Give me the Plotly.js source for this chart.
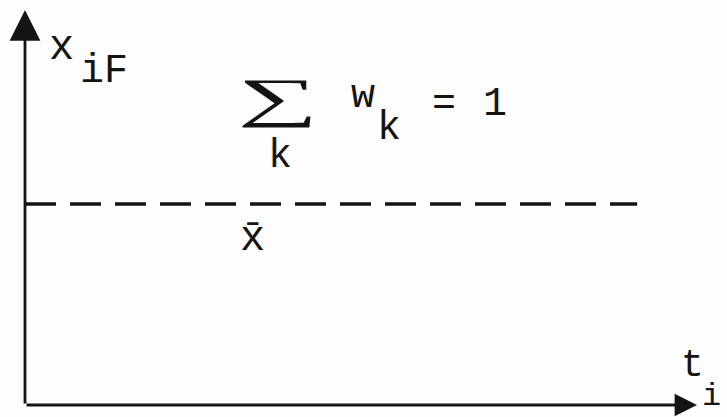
<!DOCTYPE html>
<html>
<head>
<meta charset="utf-8">
<script src="https://cdn.plot.ly/plotly-3.0.1.min.js"></script>
<style>html,body{margin:0;padding:0;background:#fff;}#chart{width:727px;height:417px;}</style>
</head>
<body>
<div id="chart"></div>
<script>
// Data (axis units: time t_i along x, x_iF along y, both normalised 0..1)
const xbar = 0.509;                 // level of the mean x̄
const meanLineT = [0.0, 0.911];     // extent of dashed mean line
const meanLineX = [xbar, xbar];
const timeAxis = [0, 1];            // t_i axis from origin to arrow tip
const valueAxis = [0, 1];           // x_iF axis from origin to arrow tip

const FONT = 'Liberation Mono, Courier New, monospace';
const SIGMA_FONT = 'Liberation Serif';
const INK = '#141414';

const labels = [
  {text: 'x',  x: 0.054, y: 0.905, size: 42},
  {text: 'iF', x: 0.080, y: 0.845, size: 40, xanchor: 'left'},
  {text: 'k',  x: 0.379, y: 0.63,  size: 40},
  {text: 'w',  x: 0.503, y: 0.78,  size: 40},
  {text: 'k',  x: 0.542, y: 0.70,  size: 40},
  {text: '=',  x: 0.624, y: 0.76,  size: 40},
  {text: '1',  x: 0.700, y: 0.76,  size: 40},
  {text: 'x̄', x: 0.339, y: 0.42,  size: 42},
  {text: 't',  x: 0.993, y: 0.10,  size: 38},
  {text: 'i',  x: 1.021, y: 0.022, size: 32}
];

const annotations = labels.map(l => ({
  text: l.text, x: l.x, y: l.y, xref: 'x', yref: 'y',
  showarrow: false, xanchor: l.xanchor || 'center', yanchor: 'middle', borderpad: 0,
  font: {family: FONT, size: l.size, color: INK}
}));

const SIGMA_SIZE = 60;
annotations.push({
  text: '∑', x: 0.376, y: 0.776, xref: 'x', yref: 'y', showarrow: false,
  font: {family: SIGMA_FONT, size: SIGMA_SIZE, color: INK}
});

// axis arrows
annotations.push({
  x: timeAxis[1], y: 0, ax: timeAxis[0], ay: 0, xref: 'x', yref: 'y', axref: 'x', ayref: 'y',
  text: '', showarrow: true, arrowhead: 2, arrowsize: 1.6, arrowwidth: 2.8, arrowcolor: INK
});
annotations.push({
  x: 0, y: valueAxis[1], ax: 0, ay: valueAxis[0], xref: 'x', yref: 'y', axref: 'x', ayref: 'y',
  text: '', showarrow: true, arrowhead: 2, arrowsize: 2.2, arrowwidth: 2.8, arrowcolor: INK
});

const traces = [{
  x: meanLineT, y: meanLineX, type: 'scatter', mode: 'lines',
  line: {color: INK, width: 3.5, dash: '31px,14px'}, hoverinfo: 'skip', showlegend: false
}];

const layout = {
  width: 727, height: 417,
  margin: {l: 25, r: 9, t: 10, b: 12},
  paper_bgcolor: '#fdfdfd', plot_bgcolor: '#fdfdfd',
  xaxis: {range: [0, 693 / 672], visible: false, fixedrange: true},
  yaxis: {range: [0, 1], visible: false, fixedrange: true},
  showlegend: false,
  annotations: annotations
};

Plotly.newPlot('chart', traces, layout, {displayModeBar: false, staticPlot: true}).then(() => {
  // stretch the summation sign to the wide, flat shape of the typed original
  const targetW = 70, targetH = 48;
  const ctx = document.createElement('canvas').getContext('2d');
  ctx.font = SIGMA_SIZE + 'px "' + SIGMA_FONT + '"';
  ctx.textAlign = 'center';
  const m = ctx.measureText('∑');
  const inkW = m.actualBoundingBoxLeft + m.actualBoundingBoxRight;
  const inkH = m.actualBoundingBoxAscent + m.actualBoundingBoxDescent;
  const sx = targetW / inkW, sy = targetH / inkH;
  document.querySelectorAll('#chart .annotation-text').forEach(t => {
    if (t.textContent === '∑') {
      const b = t.getBBox();
      const cx = b.x + b.width / 2, cy = b.y + b.height / 2;
      t.setAttribute('transform',
        `translate(${cx},${cy}) scale(${sx},${sy}) translate(${-cx},${-cy})`);
    }
  });
});
</script>
</body>
</html>
